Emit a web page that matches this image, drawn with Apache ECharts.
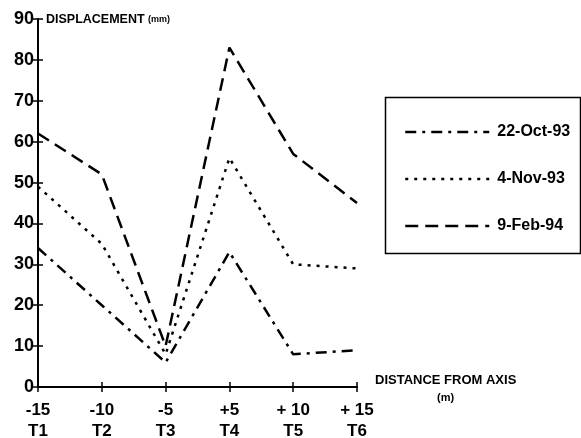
<!DOCTYPE html>
<html>
<head>
<meta charset="utf-8">
<script src="https://cdn.jsdelivr.net/npm/echarts@6/dist/echarts.min.js"></script>
<style>
html,body{margin:0;padding:0;background:#fff;}
#chart{width:581px;height:438px;}
</style>
</head>
<body>
<div id="chart"></div>
<script>
const categories = ['-15\nT1', '-10\nT2', '-5\nT3', '+5\nT4', '+ 10\nT5', '+ 15\nT6'];
const seriesNames = ['22-Oct-93', '4-Nov-93', '9-Feb-94'];
const oct93 = [34, 20, 6, 33, 8, 9];
const nov93 = [49, 35, 8, 56, 30, 29];
const feb94 = [62, 52, 10, 83, 57, 45];
const yTicks = [0, 10, 20, 30, 40, 50, 60, 70, 80, 90];

const FONT = '"Liberation Sans Narrow", "Liberation Sans", Arial, sans-serif';
const chart = echarts.init(document.getElementById('chart'));

const dashStyles = [[11, 6, 3, 6], [3, 6], [13, 7]];
const dataSets = [oct93, nov93, feb94];

const option = {
  animation: false,
  backgroundColor: '#fff',
  textStyle: { fontFamily: FONT },
  grid: { left: 38, right: 224, top: 19, bottom: 51, containLabel: false, outerBoundsMode: 'none' },
  legend: {
    show: true,
    orient: 'vertical',
    left: 399,
    top: 119,
    itemWidth: 84,
    itemHeight: 14,
    itemGap: 31,
    data: seriesNames,
    itemStyle: { opacity: 0, borderWidth: 0 },
    lineStyle: { width: 2.5 },
    textStyle: { fontFamily: FONT, fontWeight: 'bold', fontSize: 16, color: '#000', padding: [0, 0, 0, 3] }
  },
  xAxis: [{
    type: 'category',
    data: categories,
    boundaryGap: false,
    axisLine: { lineStyle: { color: '#000', width: 2 } },
    axisTick: { show: true, length: 5, alignWithLabel: true, lineStyle: { color: '#000', width: 1.5 } },
    axisLabel: { color: '#000', fontFamily: FONT, fontWeight: 'bold', fontSize: 17, lineHeight: 21, margin: 13 },
    splitLine: { show: false }
  }, {
    type: 'category',
    data: categories,
    boundaryGap: false,
    position: 'bottom',
    axisLine: { show: false },
    axisTick: { show: true, inside: true, length: 5, lineStyle: { color: '#000', width: 1.5 } },
    axisLabel: { show: false },
    splitLine: { show: false }
  }],
  yAxis: [{
    type: 'value',
    min: 0, max: 90, interval: 10,
    axisLine: { show: true, lineStyle: { color: '#000', width: 2 } },
    axisTick: { show: true, length: 5, lineStyle: { color: '#000', width: 1.5 } },
    axisLabel: { color: '#000', fontFamily: FONT, fontWeight: 'bold', fontSize: 18, margin: 4,
      formatter: v => yTicks.includes(v) ? String(v) : '' },
    splitLine: { show: false }
  }, {
    type: 'value',
    min: 0, max: 90, interval: 10,
    position: 'left',
    axisLine: { show: false },
    axisTick: { show: true, inside: true, length: 5, lineStyle: { color: '#000', width: 1.5 } },
    axisLabel: { show: false },
    splitLine: { show: false }
  }],
  graphic: [
    { type: 'text', left: 46, top: 13,
      style: { text: '{a|DISPLACEMENT} {b|(mm)}', rich: {
        a: { fontFamily: FONT, fontWeight: 'bold', fontSize: 12.5, fill: '#000' },
        b: { fontFamily: FONT, fontWeight: 'bold', fontSize: 9, fill: '#000' } } } },
    { type: 'text', left: 375, top: 374,
      style: { text: 'DISTANCE FROM AXIS', fontFamily: FONT, fontWeight: 'bold', fontSize: 13, fill: '#000' } },
    { type: 'text', left: 437, top: 392,
      style: { text: '(m)', fontFamily: FONT, fontWeight: 'bold', fontSize: 11, fill: '#000' } },
    { type: 'rect', shape: { x: 385.5, y: 97.5, width: 195, height: 156 },
      style: { fill: 'none', stroke: '#000', lineWidth: 1.5 } }
  ],
  series: seriesNames.map((name, i) => ({
    name: name,
    type: 'line',
    data: dataSets[i],
    symbol: 'none',
    lineStyle: { color: '#000', width: 2.5, type: dashStyles[i] },
    itemStyle: { color: '#000' }
  }))
};
chart.setOption(option);
</script>
</body>
</html>
